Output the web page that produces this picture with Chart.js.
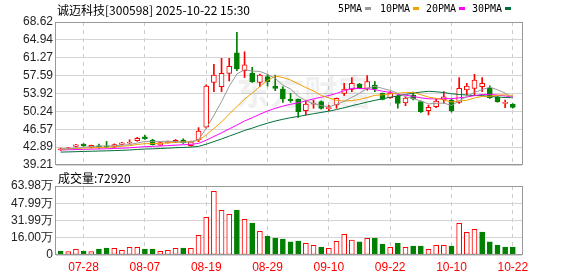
<!DOCTYPE html>
<html>
<head>
<meta charset="utf-8">
<script src="https://cdn.jsdelivr.net/npm/chart.js@4.4.1/dist/chart.umd.min.js"></script>
<style>
  body { margin: 0; background: #fff; width: 578px; height: 276px; overflow: hidden; position: relative; }
  canvas { position: absolute; left: 0; top: 0; }
  .t { position: absolute; white-space: nowrap; color: #000; line-height: 1; }
  .cn { font-family: "Noto Sans CJK SC", sans-serif; font-size: 12px; }
  .lg { font-family: "DejaVu Sans Mono", monospace; font-size: 10px; top: 4px; }
  .sq { position: absolute; top: 7px; width: 6px; height: 3px; }
</style>
</head>
<body>
<canvas id="priceChart" width="578" height="276"></canvas>
<canvas id="volChart" width="578" height="276"></canvas>

<div class="t cn" style="left:57px;top:4px;">诚迈科技[300598] 2025-10-22 15:30</div>
<div class="t lg" style="left:338px;">5PMA</div><div class="sq" style="left:365px;background:#999999"></div>
<div class="t lg" style="left:380px;">10PMA</div><div class="sq" style="left:413px;background:#f0a000"></div>
<div class="t lg" style="left:426px;">20PMA</div><div class="sq" style="left:459px;background:#ff00ff"></div>
<div class="t lg" style="left:472px;">30PMA</div><div class="sq" style="left:505px;background:#00703a"></div>
<div class="t cn" style="left:58px;top:172px;">成交量:72920</div>

<script>
// trading days 07-23 .. 10-22
const dates = ['07-23','07-24','07-25','07-28','07-29','07-30','07-31','08-01','08-04','08-05',
  '08-06','08-07','08-08','08-11','08-12','08-13','08-14','08-15','08-18','08-19',
  '08-20','08-21','08-22','08-25','08-26','08-27','08-28','08-29','09-01','09-02',
  '09-03','09-04','09-05','09-08','09-09','09-10','09-11','09-12','09-15','09-16',
  '09-17','09-18','09-19','09-22','09-23','09-24','09-25','09-26','09-29','09-30',
  '10-09','10-10','10-13','10-14','10-15','10-16','10-17','10-20','10-21','10-22'];

const opens = [42.35,42.6,43.05,43.5,42.85,43.15,43.05,42.95,43.45,43.7,
  44.2,45.0,44.35,43.3,43.75,43.9,44.35,43.2,44.35,47.0,
  56.2,55.3,58.07,62.3,58.6,58.07,56.2,57.37,55.45,54.84,
  52.78,52.78,50.37,51.7,52.23,50.8,51.55,53.95,54.77,55.85,
  54.98,55.66,53.95,53.05,53.4,52.0,53.6,52.23,50.37,51.2,
  52.57,52.57,52.1,54.63,54.98,55.3,54.98,53.13,51.9,51.75];
const highs = [42.7,42.85,43.45,43.6,43.3,43.5,44.05,43.55,43.85,44.4,
  44.9,45.3,44.5,43.9,44.15,44.45,44.6,44.15,46.9,55.7,
  59.9,61.15,61.15,66.5,62.5,59.3,57.9,57.85,57.7,55.3,
  53.95,52.78,52.57,52.57,52.4,51.5,53.0,56.0,57.2,56.0,
  57.6,56.35,54.0,54.3,53.6,53.2,54.2,52.4,51.55,52.9,
  54.3,52.9,57.2,56.0,57.86,57.2,55.5,53.3,52.57,51.8];
const lows = [42.2,42.5,42.95,43.05,42.7,42.6,42.75,42.8,43.4,43.6,
  44.1,44.45,43.3,43.2,43.7,43.8,43.65,43.1,44.0,46.8,
  54.3,54.3,56.5,58.6,57.2,56.2,55.3,55.45,54.5,52.1,
  52.1,49.0,49.5,50.87,50.7,50.4,50.87,53.5,54.3,54.9,
  54.6,54.3,52.6,52.9,50.9,51.4,52.6,50.0,49.5,51.0,
  51.9,50.1,51.9,53.6,53.6,54.3,52.9,52.1,51.0,50.9];
const closes = [42.55,42.75,43.35,43.15,43.25,43.0,42.95,43.4,43.75,43.85,
  44.7,44.55,43.4,43.8,44.05,44.3,43.75,43.95,46.2,55.45,
  57.7,58.07,59.5,58.95,59.8,56.35,57.7,56.35,54.98,52.78,
  52.45,50.2,51.75,51.9,50.87,51.0,52.9,54.84,56.0,54.98,
  56.35,54.84,52.7,53.95,51.9,52.95,52.85,50.17,51.07,52.37,
  53.25,50.37,54.98,55.45,56.69,56.0,53.05,52.23,52.1,51.07];
const prevClose = 42.7;

const ma5 = [42.51,42.56,42.73,42.86,43.01,43.10,43.14,43.15,43.27,43.39,
  43.73,44.05,44.05,44.06,44.10,44.02,43.86,43.97,44.45,46.73,
  49.41,52.27,55.38,57.93,58.80,58.53,58.46,57.83,57.04,55.63,
  54.85,53.35,52.43,51.82,51.43,51.14,51.68,52.30,53.12,53.94,
  55.01,55.40,54.97,54.56,53.95,53.26,52.88,52.37,51.79,51.89,
  51.95,51.45,52.41,53.28,54.15,54.70,55.23,54.68,54.01,52.89];
const ma10 = [42.51,42.53,42.62,42.68,42.76,42.81,42.85,42.94,43.07,43.20,
  43.42,43.60,43.60,43.67,43.75,43.88,43.96,44.01,44.26,45.42,
  46.72,48.07,49.68,51.19,52.77,53.97,55.37,56.61,57.49,57.22,
  56.69,55.91,55.13,54.43,53.53,53.00,52.52,52.37,52.47,52.69,
  53.08,53.54,53.64,53.84,53.95,54.14,54.13,53.67,53.17,52.91,
  52.59,52.15,52.37,52.52,53.00,53.31,53.34,53.55,53.65,53.52];
const ma20 = [42.31,42.34,42.39,42.43,42.48,42.51,42.55,42.60,42.67,42.75,
  42.87,42.98,43.04,43.11,43.20,43.30,43.37,43.46,43.65,44.31,
  45.07,45.83,46.64,47.43,48.26,48.92,49.66,50.31,50.87,51.32,
  51.70,51.99,52.40,52.81,53.15,53.49,53.94,54.49,54.98,54.95,
  54.89,54.72,54.38,54.13,53.74,53.57,53.33,53.02,52.83,52.81,
  52.85,52.85,53.02,53.19,53.48,53.72,53.73,53.60,53.41,53.21];
const ma30 = [41.87,41.90,41.95,42.00,42.04,42.08,42.12,42.17,42.23,42.30,
  42.40,42.49,42.54,42.60,42.68,42.76,42.82,42.89,43.04,43.49,
  44.02,44.56,45.15,45.72,46.31,46.80,47.33,47.81,48.25,48.61,
  48.94,49.19,49.47,49.76,50.02,50.28,50.61,50.99,51.40,51.77,
  52.16,52.51,52.82,53.15,53.42,53.71,54.00,54.21,54.37,54.27,
  54.12,53.87,53.71,53.60,53.49,53.48,53.33,53.19,53.09,53.04];

const volumes = [37000,31000,53000,37000,31000,56000,65000,62000,43000,71000,
  71000,56000,56000,34000,43000,62000,65000,62000,182000,349000,
  590000,414000,377000,417000,331000,297000,219000,176000,158000,148000,
  121000,130000,108000,90000,74000,62000,127000,192000,139000,121000,
  155000,158000,102000,71000,111000,71000,83000,83000,53000,90000,
  90000,83000,294000,210000,238000,213000,121000,93000,74000,72920];

const tickIdx = [3, 11, 19, 27, 35, 43, 51, 59];
const priceTicks = ['39.21','42.89','46.57','50.24','53.92','57.59','61.27','64.94','68.62'];
const volTicks = ['0','16.00万','31.99万','47.99万','63.98万'];
const volTickValues = [0, 160000, 319900, 479900, 639800];

const RED = '#ff0000', GREEN = '#008000';
Chart.defaults.font.family = '"Liberation Sans", Arial, sans-serif';
Chart.defaults.font.size = 12;

const up = closes.map((c, i) => c >= opens[i]);
const volUp = closes.map((c, i) => c >= (i ? closes[i - 1] : prevClose));

const frame = {
  id: 'frame',
  afterDraw(chart) {
    const a = chart.chartArea, ctx = chart.ctx;
    ctx.save();
    ctx.strokeStyle = '#999';
    ctx.lineWidth = 1;
    ctx.strokeRect(Math.round(a.left) - 0.5, Math.round(a.top) + 0.5,
      Math.round(a.right - a.left) + 1, Math.round(a.bottom - a.top) - 1);
    ctx.restore();
  }
};

const watermark = {
  id: 'watermark',
  beforeDatasetsDraw(chart) {
    const ctx = chart.ctx;
    ctx.save();
    ctx.fillStyle = 'rgba(0,0,0,0.06)';
    ctx.font = 'bold 34px "Noto Sans CJK SC"';
    ctx.textBaseline = 'middle';
    ctx.fillText('东方财富', 236, 92);
    ctx.restore();
  }
};

const xCommon = {
  type: 'linear', min: -0.6, max: 60.2, offset: false,
  afterBuildTicks: s => { s.ticks = tickIdx.map(v => ({ value: v })); },
  grid: { color: '#cccccc', drawTicks: false, offset: false },
  border: { display: false, dash: [4, 4] }
};

const line = (label, arr, color) => ({
  type: 'line', label: label, data: arr.map((v, i) => ({ x: i, y: v })),
  borderColor: color, borderWidth: 1, pointRadius: 0, tension: 0, order: 0
});

new Chart(document.getElementById('priceChart'), {
  type: 'bar',
  data: {
    datasets: [
      line('5PMA', ma5, '#999999'),
      line('10PMA', ma10, '#f0a000'),
      line('20PMA', ma20, '#ff00ff'),
      line('30PMA', ma30, '#00703a'),
      {
        label: 'body', data: opens.map((o, i) => ({ x: i, y: [o, closes[i]] })),
        backgroundColor: up.map(u => u ? '#ffffff' : GREEN),
        borderColor: up.map(u => u ? RED : GREEN),
        borderWidth: 1, borderSkipped: false, barThickness: 5, grouped: false, order: 1
      },
      {
        label: 'wick', data: lows.map((l, i) => ({ x: i, y: [l, highs[i]] })),
        backgroundColor: up.map(u => u ? RED : GREEN),
        borderWidth: 0, barThickness: 1, grouped: false, order: 2
      }
    ]
  },
  options: {
    responsive: false, animation: false, events: [],
    layout: { padding: { left: 0, right: 56, top: 22, bottom: 111 } },
    plugins: { legend: { display: false }, tooltip: { enabled: false } },
    scales: {
      x: Object.assign({}, xCommon, {
        ticks: { display: false },
        afterFit: s => { s.height = 0; }
      }),
      y: {
        min: +priceTicks[0], max: +priceTicks[priceTicks.length - 1],
        afterBuildTicks: s => { s.ticks = priceTicks.map(t => ({ value: +t })); },
        ticks: { callback: (v, k) => priceTicks[k], color: '#222', padding: 3, autoSkip: false },
        grid: { color: '#d4d4d4', drawTicks: false },
        border: { display: false },
        afterFit: s => { s.width = 56; }
      }
    }
  },
  plugins: [watermark, frame]
});

new Chart(document.getElementById('volChart'), {
  type: 'bar',
  data: {
    datasets: [{
      label: '成交量', data: volumes.map((v, i) => ({ x: i, y: v })),
      backgroundColor: volUp.map(u => u ? '#ffffff' : GREEN),
      borderColor: volUp.map(u => u ? RED : GREEN),
      borderWidth: 1, borderSkipped: false, barThickness: 5, grouped: false
    }]
  },
  options: {
    responsive: false, animation: false, events: [],
    layout: { padding: { left: 0, right: 56, top: 186, bottom: 0 } },
    plugins: { legend: { display: false }, tooltip: { enabled: false } },
    scales: {
      x: Object.assign({}, xCommon, {
        ticks: { callback: v => dates[v], color: RED, padding: 5, autoSkip: false, maxRotation: 0 },
        afterFit: s => { s.height = 21; }
      }),
      y: {
        min: 0, max: volTickValues[volTickValues.length - 1],
        afterBuildTicks: s => { s.ticks = volTickValues.map(v => ({ value: v })); },
        ticks: { callback: (v, k) => volTicks[k], color: '#222', padding: 3, autoSkip: false },
        grid: { color: '#d4d4d4', drawTicks: false },
        border: { display: false },
        afterFit: s => { s.width = 56; }
      }
    }
  },
  plugins: [frame]
});
</script>
</body>
</html>
